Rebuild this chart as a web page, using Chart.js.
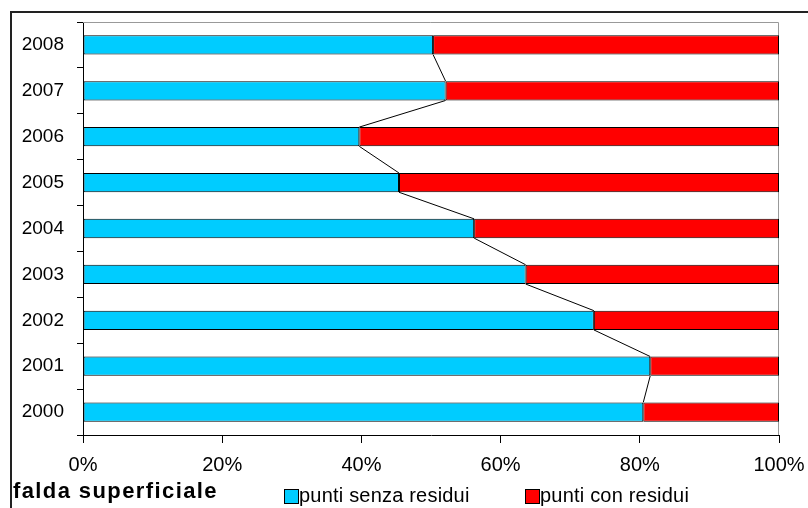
<!DOCTYPE html>
<html>
<head>
<meta charset="utf-8">
<script src="https://cdn.jsdelivr.net/npm/chart.js@4"></script>
<style>
  html, body { margin: 0; padding: 0; background: #fff; overflow: hidden; }
  #wrap { position: relative; width: 808px; height: 508px; }
  #chart { position: absolute; left: 0; top: 0; }
  .txt { position: absolute; font-family: "Liberation Sans", Arial, sans-serif; color: #000; white-space: nowrap; }
  #title { left: 13px; top: 478px; font-size: 22px; font-weight: bold; letter-spacing: 1.4px; }
  .swatch { position: absolute; width: 13px; height: 13px; border: 1px solid #000; }
  .leg { top: 484px; font-size: 20px; letter-spacing: 0.2px; }
</style>
</head>
<body>
<div id="wrap">
  <canvas id="chart" width="808" height="508"></canvas>
  <div class="txt" id="title">falda superficiale</div>
  <div class="swatch" style="left:284px; top:489px; background:#00CCFF;"></div>
  <div class="txt leg" style="left:299px;">punti senza residui</div>
  <div class="swatch" style="left:525px; top:489px; background:#FF0000;"></div>
  <div class="txt leg" style="left:540px;">punti con residui</div>
</div>
<script>
// dati (percentuali)
const years = ['2000', '2001', '2002', '2003', '2004', '2005', '2006', '2007', '2008'];
const senzaResidui = [80.5, 81.5, 73.4, 63.6, 56.2, 45.4, 39.7, 52.1, 50.3];
const conResidui = [19.5, 18.5, 26.6, 36.4, 43.8, 54.6, 60.3, 47.9, 49.7];
const xTicks = [0, 20, 40, 60, 80, 100];

const FONT = '"Liberation Sans", Arial, sans-serif';

// cornice esterna + bordo area del grafico
const framePlugin = {
    id: 'frame',
    beforeDraw(chart) {
        const ctx = chart.ctx;
        ctx.save();
        ctx.strokeStyle = '#222';
        ctx.lineWidth = 2;
        ctx.strokeRect(11, 12, 1000, 1000);
        ctx.restore();
    },
    beforeDatasetsDraw(chart) {
        const { ctx, chartArea: a } = chart;
        ctx.save();
        ctx.strokeStyle = '#999';
        ctx.lineWidth = 1;
        ctx.beginPath();
        ctx.moveTo(a.left, a.top + 0.5);
        ctx.lineTo(a.right - 0.5, a.top + 0.5);
        ctx.lineTo(a.right - 0.5, a.bottom);
        ctx.stroke();
        ctx.restore();
    }
};

// linee di serie (come in Excel) tra le estremità dei segmenti azzurri
const seriesLinesPlugin = {
    id: 'seriesLines',
    afterDatasetsDraw(chart) {
        const meta = chart.getDatasetMeta(0);
        const bars = meta.data.slice().sort((a, b) => a.y - b.y);
        const ctx = chart.ctx;
        ctx.save();
        ctx.strokeStyle = '#000';
        ctx.lineWidth = 1;
        ctx.beginPath();
        for (let i = 0; i < bars.length - 1; i++) {
            const top = bars[i];
            const next = bars[i + 1];
            ctx.moveTo(top.x, top.y + top.height / 2);
            ctx.lineTo(next.x, next.y - next.height / 2);
        }
        ctx.stroke();
        ctx.restore();
    }
};

const canvas = document.getElementById('chart');
new Chart(canvas, {
    type: 'bar',
    data: {
        labels: years,
        datasets: [{
            label: 'punti senza residui',
            data: senzaResidui,
            backgroundColor: '#00CCFF',
            borderColor: '#000',
            borderWidth: 1,
            borderSkipped: false,
            barPercentage: 0.42,
            categoryPercentage: 1
        }, {
            label: 'punti con residui',
            data: conResidui,
            backgroundColor: '#FF0000',
            borderColor: '#000',
            borderWidth: 1,
            borderSkipped: false,
            barPercentage: 0.42,
            categoryPercentage: 1
        }]
    },
    options: {
        indexAxis: 'y',
        responsive: false,
        animation: false,
        maintainAspectRatio: false,
        layout: { padding: { top: 22, right: 29, left: 0, bottom: 0 } },
        plugins: {
            legend: { display: false },
            tooltip: { enabled: false }
        },
        scales: {
            x: {
                stacked: true,
                min: 0,
                max: 100,
                afterBuildTicks(scale) {
                    scale.ticks = xTicks.map(v => ({ value: v }));
                },
                afterFit(scale) {
                    scale.height = 73;
                    scale.paddingLeft = 0;
                    scale.paddingRight = 0;
                },
                grid: { drawOnChartArea: false, tickLength: 8, color: '#000' },
                border: { color: '#000', width: 1 },
                ticks: {
                    color: '#000',
                    padding: 10,
                    font: { family: FONT, size: 20 },
                    callback: v => v + '%'
                }
            },
            y: {
                stacked: true,
                reverse: true,
                afterFit(scale) {
                    scale.width = 83;
                    scale.paddingTop = 0;
                    scale.paddingBottom = 0;
                },
                grid: { drawOnChartArea: false, tickLength: 6, color: '#000', offset: true },
                border: { color: '#000', width: 1 },
                ticks: {
                    color: '#000',
                    padding: 13,
                    font: { family: FONT, size: 19 }
                }
            }
        }
    },
    plugins: [framePlugin, seriesLinesPlugin]
});
</script>
</body>
</html>
